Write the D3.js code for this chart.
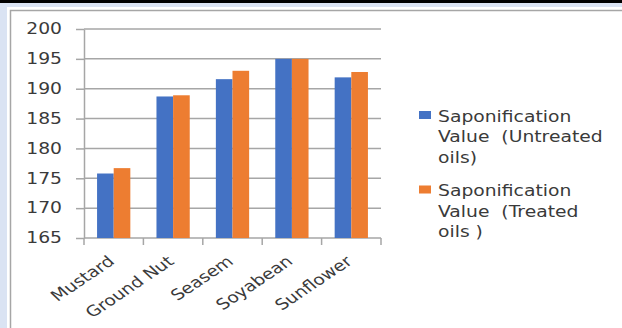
<!DOCTYPE html>
<html>
<head>
<meta charset="utf-8">
<script src="https://cdn.jsdelivr.net/npm/d3@7"></script>
<style>
  html, body { margin: 0; padding: 0; background: #fff; }
  svg { display: block; }
  text { font-family: "DejaVu Sans", Verdana, sans-serif; fill: #3a3a3a; }
</style>
</head>
<body>
<svg id="chart" width="622" height="328"></svg>
<script>
// Oils and their saponification values
const categories = ["Mustard", "Ground Nut", "Seasem", "Soyabean", "Sunflower"];
const untreated = [175.8, 188.7, 191.6, 195.0, 191.9];
const treated   = [176.7, 188.9, 193.0, 195.0, 192.8];
const seriesNames = [
  ["Saponification", "Value  (Untreated", "oils)"],
  ["Saponification", "Value  (Treated", "oils )"]
];
const seriesColors = ["#4472c4", "#ed7d31"];
const yTicks = [165, 170, 175, 180, 185, 190, 195, 200];

const svg = d3.select("#chart");
const W = 622, H = 328;
const stretch = 1.25;   // wide lettering used throughout

// window frame: dark top bar, pale blue surround, grey chart border
svg.append("rect").attr("x", 0).attr("y", 0).attr("width", W).attr("height", H).attr("fill", "#dae3f3");
svg.append("rect").attr("x", 7).attr("y", 7).attr("width", W).attr("height", H).attr("fill", "#ffffff");
svg.append("rect").attr("x", 0).attr("y", 0).attr("width", W).attr("height", 3).attr("fill", "#000000");
svg.append("path").attr("d", `M10.5,${H} V10.5 H${W}`).attr("fill", "none")
  .attr("stroke", "#a6a6a6").attr("stroke-width", 1.5);

const plot = { left: 84, right: 381, top: 29, bottom: 238 };

const y = d3.scaleLinear().domain([165, 200]).range([plot.bottom, plot.top]);
const x0 = d3.scaleBand().domain(categories).range([plot.left, plot.right])
  .paddingInner(0.44).paddingOuter(0.22);
const x1 = d3.scaleBand().domain([0, 1]).range([0, x0.bandwidth()]).padding(0);

// horizontal gridlines
svg.append("g").selectAll("line").data(yTicks).join("line")
  .attr("x1", plot.left).attr("x2", plot.right)
  .attr("y1", d => y(d)).attr("y2", d => y(d))
  .attr("stroke", "#a6a6a6").attr("stroke-width", 1.5);

// y axis with outward ticks
const yAxis = svg.append("g").attr("transform", `translate(${plot.left},0)`)
  .call(d3.axisLeft(y).tickValues(yTicks).tickSize(8).tickSizeOuter(0));
yAxis.select(".domain").attr("stroke", "#a6a6a6").attr("stroke-width", 1.5);
yAxis.selectAll(".tick line").attr("stroke", "#a6a6a6").attr("stroke-width", 1.5);
yAxis.selectAll(".tick text")
  .attr("x", null)
  .attr("transform", `translate(-22,0) scale(${stretch},1)`)
  .attr("text-anchor", "end")
  .attr("font-size", 15)
  .attr("font-family", "DejaVu Sans, sans-serif")
  .attr("fill", "#3a3a3a");

// x axis ticks at category boundaries
const step = x0.step();
const tickXs = d3.range(categories.length + 1).map(i => plot.left + i * step);
svg.append("g").selectAll("line").data(tickXs).join("line")
  .attr("x1", d => d).attr("x2", d => d)
  .attr("y1", plot.bottom).attr("y2", plot.bottom + 7)
  .attr("stroke", "#a6a6a6").attr("stroke-width", 1.5);

// bars
const groups = svg.append("g").selectAll("g").data(categories).join("g")
  .attr("transform", c => `translate(${x0(c)},0)`);
groups.selectAll("rect")
  .data((c, i) => [untreated[i], treated[i]])
  .join("rect")
  .attr("x", (d, j) => x1(j))
  .attr("width", x1.bandwidth())
  .attr("y", d => y(d))
  .attr("height", d => plot.bottom - y(d))
  .attr("fill", (d, j) => seriesColors[j]);

// rotated category labels
svg.append("g").selectAll("text").data(categories).join("text")
  .attr("text-anchor", "end")
  .attr("font-size", 15)
  .attr("transform", c => `translate(${x0(c) + x0.bandwidth() / 2 + 2},${plot.bottom + 25}) scale(${stretch},1) rotate(-40)`)
  .text(c => c);

// legend
const legend = svg.append("g");
const entryTop = [121.5, 196];
seriesNames.forEach((lines, i) => {
  legend.append("rect")
    .attr("x", 419).attr("y", entryTop[i] - 10.5)
    .attr("width", 12).attr("height", 8)
    .attr("fill", seriesColors[i]);
  lines.forEach((ln, k) => {
    legend.append("text")
      .attr("transform", `translate(438,${entryTop[i] + k * 20.5}) scale(${stretch},1)`)
      .attr("font-size", 15)
      .style("white-space", "pre")
      .text(ln);
  });
});
</script>
</body>
</html>
